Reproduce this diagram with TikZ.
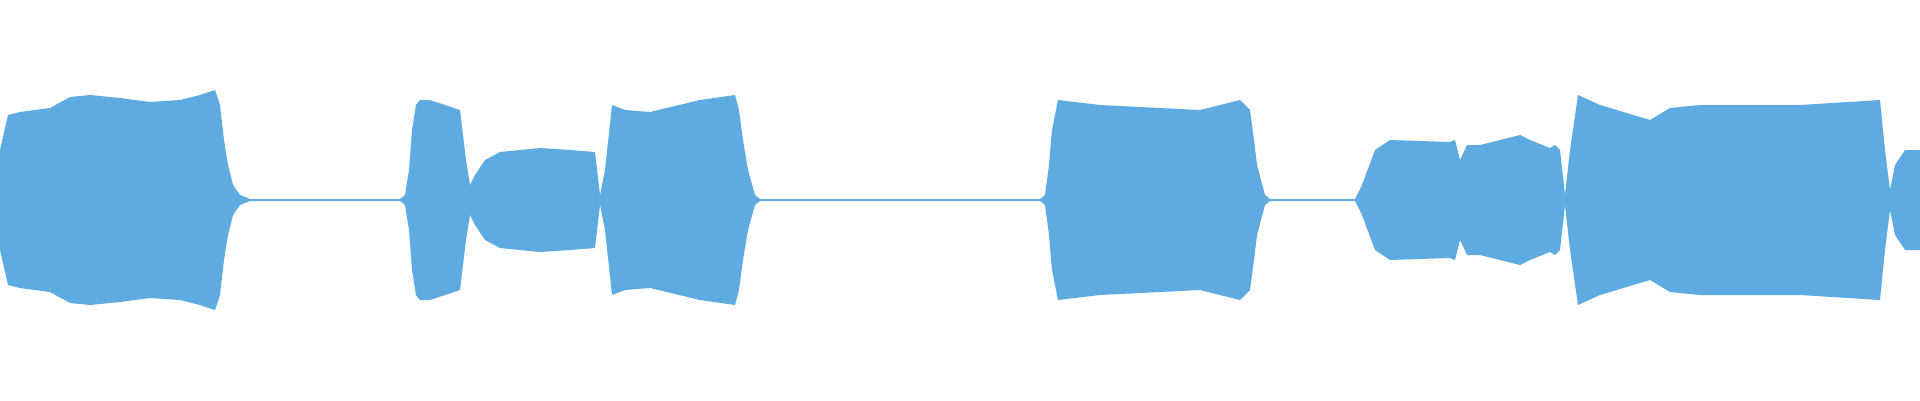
\documentclass[tikz,border=0pt]{standalone}
\definecolor{wave}{HTML}{5DABE0}
\begin{document}
\begin{tikzpicture}[x=1pt,y=1pt]
\useasboundingbox (0,-200) rectangle (1920,200);
\def\env{(0,0) -- (0,50) -- (8,85) -- (20,88) -- (50,92) -- (70,103) -- (90,105) -- (120,102) -- (150,98) -- (180,100) -- (200,105) -- (215,110) -- (220,95) -- (224,60) -- (228,35) -- (233,15) -- (240,5) -- (250,1) -- (400,1) -- (405,5) -- (409,30) -- (412,70) -- (416,95) -- (420,100) -- (430,100) -- (460,90) -- (463,65) -- (466,40) -- (470,15) -- (475,25) -- (485,40) -- (500,48) -- (540,52) -- (570,50) -- (595,48) -- (600,5) -- (605,30) -- (612,95) -- (625,90) -- (650,88) -- (700,100) -- (735,105) -- (739,90) -- (743,60) -- (748,30) -- (755,5) -- (760,1) -- (1040,1) -- (1045,5) -- (1049,35) -- (1052,70) -- (1058,100) -- (1100,95) -- (1200,90) -- (1240,100) -- (1250,90) -- (1254,60) -- (1257,35) -- (1265,5) -- (1270,1) -- (1355,1) -- (1362,15) -- (1375,50) -- (1390,60) -- (1450,58) -- (1455,60) -- (1460,40) -- (1467,55) -- (1480,55) -- (1500,60) -- (1520,65) -- (1530,60) -- (1550,52) -- (1555,55) -- (1560,50) -- (1565,5) -- (1570,50) -- (1578,105) -- (1600,95) -- (1650,80) -- (1670,92) -- (1700,95) -- (1800,95) -- (1880,100) -- (1885,50) -- (1890,10) -- (1895,35) -- (1905,50) -- (1920,50) -- (1920,0) -- cycle}
\fill[wave] \env;
\begin{scope}[yscale=-1]
\fill[wave] \env;
\end{scope}
\end{tikzpicture}
\end{document}
